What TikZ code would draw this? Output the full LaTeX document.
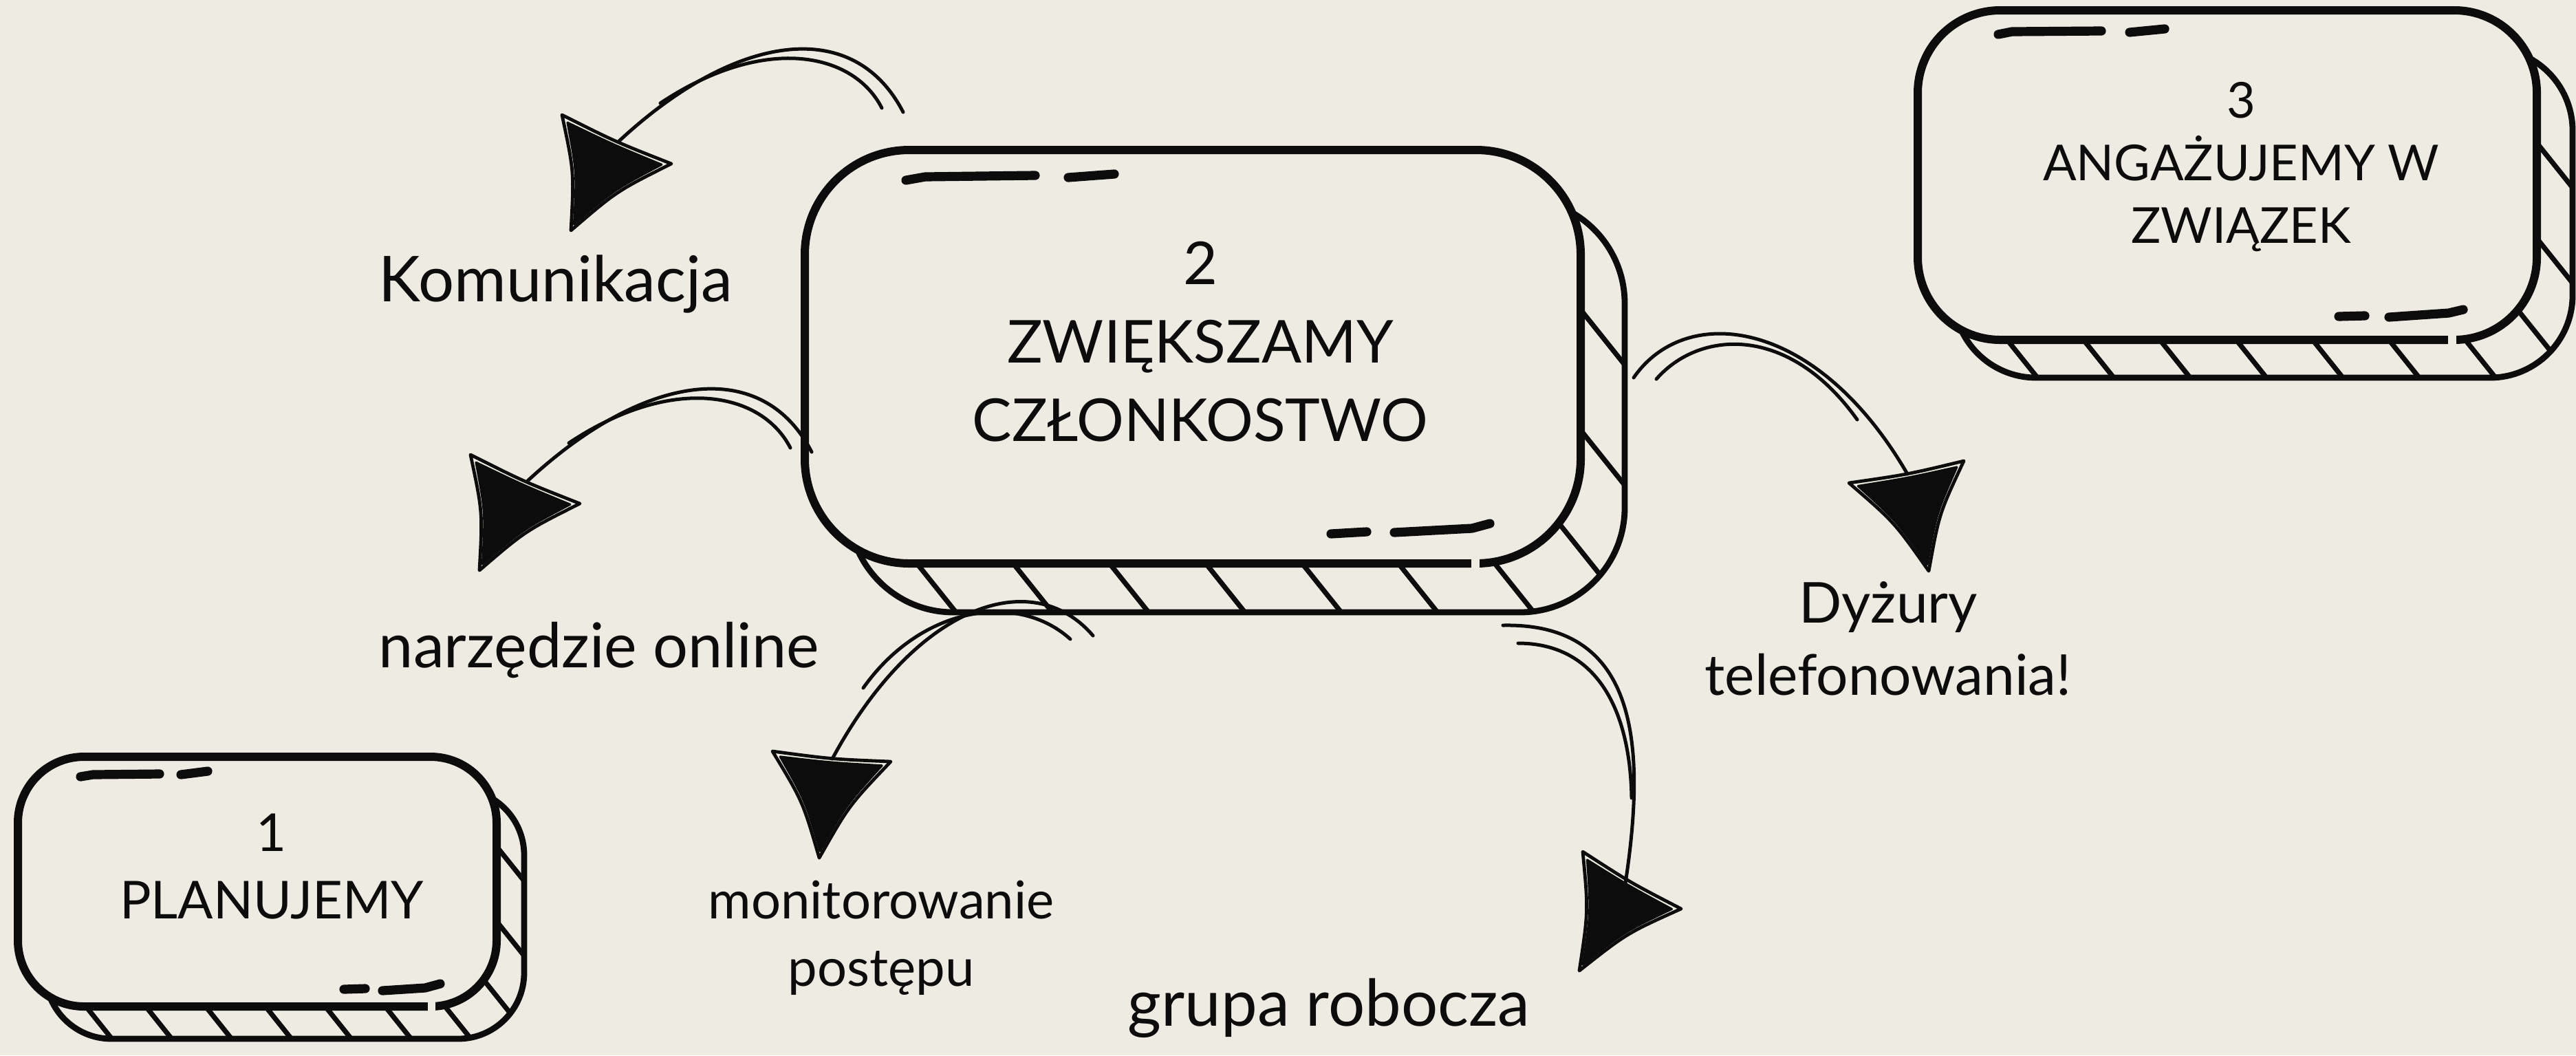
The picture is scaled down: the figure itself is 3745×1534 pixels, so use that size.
\documentclass[tikz,border=0pt]{standalone}
\usepackage{fontspec}
\setmainfont{Lato}
\usetikzlibrary{calc}
\definecolor{bgc}{RGB}{238,235,227}
\definecolor{ink}{RGB}{12,12,12}
\tikzset{
  frontline/.style={draw=ink, line width=3pt, line join=round},
  shadowline/.style={draw=ink, line width=2.2pt},
  hatchline/.style={draw=ink, line width=1.8pt, line cap=round},
  dashmark/.style={draw=ink, line width=3.3pt, line cap=round, line join=round},
  arrowline/.style={draw=ink, line width=1.25pt, line cap=round},
  tipoutline/.style={draw=ink, line width=1.2pt, line join=round},
  tipfill/.style={draw=ink, fill=ink, line width=0.8pt, line join=round},
  boxtext/.style={align=center, text=ink, inner sep=0pt},
  labeltext/.style={align=center, text=ink, inner sep=0pt},
}
% #1 x1, #2 y1, #3 x2, #4 y2, #5 radius, #6 dx, #7 dy, #8 hatch spacing, #9 hatch phase
\newcommand{\skbox}[9]{%
  \begin{scope}
    \clip[rounded corners=#5] (#1+#6,#2+#7) rectangle (#3+#6,#4+#7);
    \foreach \i in {-3,...,15}
      \draw[hatchline] ({#1+#9+(\i)*#8-800},{#4-1000}) -- ++(1600,2000);
  \end{scope}
  \draw[shadowline, rounded corners=#5] (#1+#6,#2+#7) rectangle (#3+#6,#4+#7);
  \draw[frontline, fill=bgc, rounded corners=#5] (#1,#2) rectangle (#3,#4);
}
\newcommand{\arrhead}[3]{%
  \coordinate (hG) at ($(#1)!0.5!(#2)!0.3333!(#3)$);
  \path[tipoutline] (#1) .. controls ($(#1)!0.5!(#2)!0.22!(hG)$) .. (#2)
     .. controls ($(#2)!0.5!(#3)!0.22!(hG)$) .. (#3)
     .. controls ($(#3)!0.5!(#1)!0.08!(hG)$) .. (#1) -- cycle;
  \coordinate (hA) at ($(#1)!0.14!(hG)$);
  \coordinate (hB) at ($(#2)!0.10!(hG)$);
  \coordinate (hC) at ($(#3)!0.14!(hG)$);
  \path[tipfill] (hA) .. controls ($(hA)!0.5!(hB)!0.2!(hG)$) .. (hB)
     .. controls ($(hB)!0.5!(hC)!0.2!(hG)$) .. (hC)
     .. controls ($(hC)!0.5!(hA)!0.05!(hG)$) .. (hA) -- cycle;
}
\begin{document}
\begin{tikzpicture}[x=0.25pt,y=-0.25pt]
\path[use as bounding box, fill=bgc] (0,0) rectangle (3745,1534);

% ---------- boxes ----------
\skbox{1170}{218}{2298}{819}{38pt}{64}{71}{140}{23}
\skbox{26}{1100}{722}{1463}{24pt}{40}{47}{87}{12}
\skbox{2788}{15}{3688}{494}{30pt}{52}{55}{111}{19}

% small gaps in the bottom edges
\fill[bgc] (2139,811) rectangle (2151,828);
\fill[bgc] (622,1455) rectangle (633,1471);
\fill[bgc] (3559,486) rectangle (3571,502);

% brush dashes
\draw[dashmark] (1317,262) -- (1345,257) -- (1505,255);
\draw[dashmark] (1553,258) -- (1620,253);
\draw[dashmark] (1935,776) -- (1987,773);
\draw[dashmark] (2027,774) -- (2140,768) -- (2166,761);

\draw[dashmark] (117,1129) -- (135,1126) -- (232,1125);
\draw[dashmark] (263,1126) -- (302,1121);
\draw[dashmark] (500,1438) -- (531,1437);
\draw[dashmark] (556,1440) -- (618,1436) -- (640,1430);

\draw[dashmark] (2905,50) -- (2925,46) -- (3055,45);
\draw[dashmark] (3096,47) -- (3147,42);
\draw[dashmark] (3400,460) -- (3438,459);
\draw[dashmark] (3473,461) -- (3560,455) -- (3581,450);

% ---------- box texts ----------
\node[boxtext, font=\fontsize{21.5pt}{28.5pt}\selectfont] (b2) at (1745,497) {2\\ZWIĘKSZAMY\\CZŁONKOSTWO};
\node[boxtext, font=\fontsize{19pt}{24.5pt}\selectfont] (b1) at (395,1260) {1\\PLANUJEMY};
\node[boxtext, font=\fontsize{18pt}{22.75pt}\selectfont] (b3) at (3258,243) {3\\ANGAŻUJEMY W\\ZWIĄZEK};

% ---------- labels ----------
\node[labeltext, font=\fontsize{23pt}{28pt}\selectfont, anchor=base] (lkom) at (808,438) {Komunikacja};
\node[labeltext, font=\fontsize{22.5pt}{28pt}\selectfont, anchor=base] (lnarz) at (871,970) {narzędzie online};
\node[labeltext, font=\fontsize{19pt}{24.5pt}\selectfont] (lmon) at (1281,1363) {monitorowanie\\postępu};
\node[labeltext, font=\fontsize{23.5pt}{28pt}\selectfont, anchor=base] (lgrupa) at (1932,1491) {grupa robocza};
\node[labeltext, font=\fontsize{20.5pt}{26.25pt}\selectfont] (ldyz) at (2745,928) {Dyżury\\telefonowania!};

% ---------- arrows ----------
% to Komunikacja
\coordinate (kS) at (1313,163);
\coordinate (kS2) at (1282,157);
\coordinate (kM) at (960,150);
\coordinate (kE) at (900,205);
\coordinate (kH1) at (817,167);
\coordinate (kH2) at (830,335);
\coordinate (kH3) at (976,238);
\draw[arrowline] (kS) .. controls (1240,22) and (1068,49) .. (kE);
\draw[arrowline] (kS2) .. controls (1240,75) and (1110,50) .. (kM);
\arrhead{kH1}{kH2}{kH3}

% to narzedzie online
\coordinate (nS) at (1180,657);
\coordinate (nS2) at (1149,651);
\coordinate (nM) at (827,644);
\coordinate (nE) at (767,699);
\coordinate (nH1) at (684,661);
\coordinate (nH2) at (697,829);
\coordinate (nH3) at (843,732);
\draw[arrowline] (nS) .. controls (1107,516) and (935,543) .. (nE);
\draw[arrowline] (nS2) .. controls (1107,569) and (977,544) .. (nM);
\arrhead{nH1}{nH2}{nH3}

% to monitorowanie
\coordinate (mS) at (1589,924);
\coordinate (mS2) at (1556,929);
\coordinate (mM) at (1255,1000);
\coordinate (mE) at (1210,1103);
\coordinate (mH1) at (1123,1092);
\coordinate (mH2) at (1191,1247);
\coordinate (mH3) at (1295,1107);
\draw[arrowline] (mS) .. controls (1500,820) and (1330,880) .. (mE);
\draw[arrowline] (mS2) .. controls (1480,860) and (1340,880) .. (mM);
\arrhead{mH1}{mH2}{mH3}

% to grupa robocza
\coordinate (gS) at (2185,909);
\coordinate (gS2) at (2207,935);
\coordinate (gM) at (2372,1160);
\coordinate (gE) at (2362,1290);
\coordinate (gH1) at (2301,1238);
\coordinate (gH2) at (2296,1411);
\coordinate (gH3) at (2444,1321);
\draw[arrowline] (gS) .. controls (2380,905) and (2395,1080) .. (gE);
\draw[arrowline] (gS2) .. controls (2320,935) and (2370,1030) .. (gM);
\arrhead{gH1}{gH2}{gH3}

% to Dyzury
\coordinate (dS) at (2375,549);
\coordinate (dS2) at (2408,551);
\coordinate (dM) at (2700,610);
\coordinate (dE) at (2773,689);
\coordinate (dH1) at (2688,702);
\coordinate (dH2) at (2804,830);
\coordinate (dH3) at (2855,670);
\draw[arrowline] (dS) .. controls (2450,440) and (2640,460) .. (dE);
\draw[arrowline] (dS2) .. controls (2470,480) and (2600,470) .. (dM);
\arrhead{dH1}{dH2}{dH3}
\end{tikzpicture}
\end{document}
